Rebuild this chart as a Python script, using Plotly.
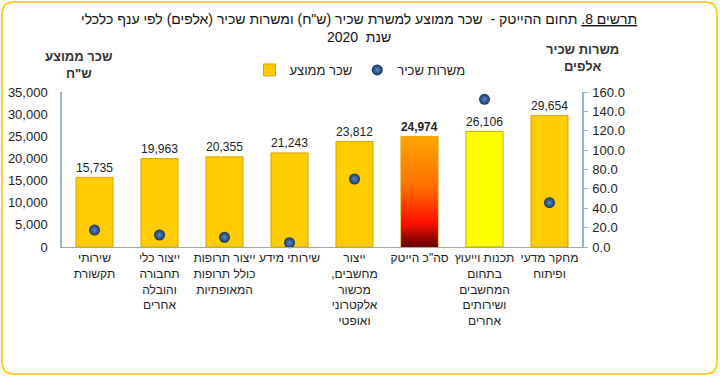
import plotly.graph_objects as go

categories = [
    "שירותי<br>תקשורת",
    "ייצור כלי<br>תחבורה<br>והובלה<br>אחרים",
    "ייצור תרופות<br>כולל תרופות<br>המאופתיות",
    "שירותי מידע",
    "ייצור<br>מחשבים,\u200f<br>מכשור<br>אלקטרוני<br>ואופטי",
    "סה\"כ הייטק",
    "תכנות וייעוץ<br>בתחום<br>המחשבים<br>ושירותים<br>אחרים",
    "מחקר מדעי<br>ופיתוח",
]
avg_wage = [15735, 19963, 20355, 21243, 23812, 24974, 26106, 29654]
jobs = [17.5, 12.4, 10.0, 4.4, 70.2, None, 152.4, 45.7]
bar_colors = ["#FFCC00", "#FFCC00", "#FFCC00", "#FFCC00", "#FFCC00", "#FF9A00", "#FFFF00", "#FFCC00"]
total_idx = 5
wage_labels = [f"{v:,}" if i != total_idx else f"<b>{v:,}</b>" for i, v in enumerate(avg_wage)]

FONT = "Liberation Sans, Arial, sans-serif"
W, H = 720, 377
L, R, T, B = 62, 138, 92, 130
pw, ph = W - L - R, H - T - B

fig = go.Figure()
fig.add_trace(go.Bar(
    x=categories, y=avg_wage, name="שכר ממוצע", width=0.57,
    marker=dict(color=bar_colors, line=dict(color="#D9A300", width=1)),
    text=wage_labels, textposition="outside", cliponaxis=False,
    textfont=dict(size=13, color="#222222", family=FONT),
))

# vertical gradient for the total bar: stacked overlaid slices
def lerp(c1, c2, t):
    return "#%02X%02X%02X" % tuple(int(round(a + (b - a) * t)) for a, b in zip(c1, c2))
stops = [(0.0, (0x60, 0x00, 0x00)), (0.22, (0xFF, 0x10, 0x00)), (0.55, (0xFF, 0x70, 0x00)), (1.0, (0xFF, 0xA5, 0x00))]
def grad(f):
    for (f1, c1), (f2, c2) in zip(stops[:-1], stops[1:]):
        if f1 <= f <= f2:
            return lerp(c1, c2, (f - f1) / (f2 - f1))
    return lerp(stops[-1][1], stops[-1][1], 0)
N = 40
for k in range(N, 0, -1):
    f = k / N
    fig.add_trace(go.Bar(
        x=[categories[total_idx]], y=[avg_wage[total_idx] * f], width=0.57 if k == N else 0.55,
        marker=dict(color=grad(f - 0.5 / N), line=dict(width=0)),
        showlegend=False, hoverinfo="skip",
    ))

fig.add_trace(go.Scatter(
    x=categories, y=jobs, name="משרות שכיר", mode="markers", yaxis="y2",
    marker=dict(size=11, color="#16365F", gradient=dict(type="radial", color="#5C8AC8"),
                line=dict(width=0)),
    cliponaxis=False,
))

fig.update_layout(
    width=W, height=H, barmode="overlay",
    margin=dict(l=L, r=R, t=T, b=B, autoexpand=False),
    paper_bgcolor="white", plot_bgcolor="white",
    font=dict(family=FONT, size=12, color="#222222"),
    showlegend=True,
    legend=dict(orientation="h", x=(360 - L) / pw, xanchor="center", y=(H - B - 70) / ph, yanchor="middle",
                font=dict(size=13), bgcolor="rgba(0,0,0,0)", itemwidth=30, tracegroupgap=0),
    xaxis=dict(type="category", range=[-0.5, 7.5], showline=True, linecolor="#A6A6A6", linewidth=1,
               ticks="", tickfont=dict(size=12, color="#222222"), showgrid=False, tickangle=0),
    yaxis=dict(range=[0, 35000], dtick=5000, tickformat=",", showline=True, linecolor="#95B3D7",
               linewidth=1.5, ticks="", ticklabelstandoff=10, showgrid=False, zeroline=False,
               tickfont=dict(size=13, color="#222222")),
    yaxis2=dict(range=[0, 160], dtick=20, tickformat=".1f", overlaying="y", side="right",
                showline=True, linecolor="#95B3D7", linewidth=1.5, ticks="outside", ticklen=4,
                tickcolor="#95B3D7", ticklabelstandoff=2, showgrid=False, zeroline=False,
                tickfont=dict(size=13, color="#222222")),
)

def px(xp):
    return (xp - L) / pw
def py(yp):
    return (H - B - yp) / ph

fig.add_annotation(xref="paper", yref="paper", x=px(359), y=py(28), yanchor="middle", showarrow=False,
                   text="<u>תרשים 8.</u> תחום ההייטק -  שכר ממוצע למשרת שכיר (ש\"ח) ומשרות שכיר (אלפים) לפי ענף כלכלי<br>שנת  2020",
                   font=dict(size=14, color="#111111", family=FONT), align="center")
fig.add_annotation(xref="paper", yref="paper", x=px(43), y=py(65), yanchor="middle", showarrow=False,
                   text="<b>שכר ממוצע<br>ש\"ח</b>", font=dict(size=13, color="#333333"), align="center")
fig.add_annotation(xref="paper", yref="paper", x=px(621), y=py(58), yanchor="middle", showarrow=False,
                   text="<b>משרות שכיר<br>אלפים</b>", font=dict(size=13, color="#333333"), align="center")

# rounded chart border
x0, x1, y0, y1 = px(2), px(717), py(374), py(2)
rx, ry = 12 / pw, 12 / ph
path = (f"M {x0+rx},{y1} L {x1-rx},{y1} Q {x1},{y1} {x1},{y1-ry} L {x1},{y0+ry} Q {x1},{y0} {x1-rx},{y0} "
        f"L {x0+rx},{y0} Q {x0},{y0} {x0},{y0+ry} L {x0},{y1-ry} Q {x0},{y1} {x0+rx},{y1} Z")
fig.add_shape(type="path", xref="paper", yref="paper", path=path, line=dict(color="#FFC000", width=1.5), layer="below")

fig.write_html("out.html", config={"displayModeBar": False},
               post_script="document.body.style.margin='0';document.body.style.overflow='hidden';")
